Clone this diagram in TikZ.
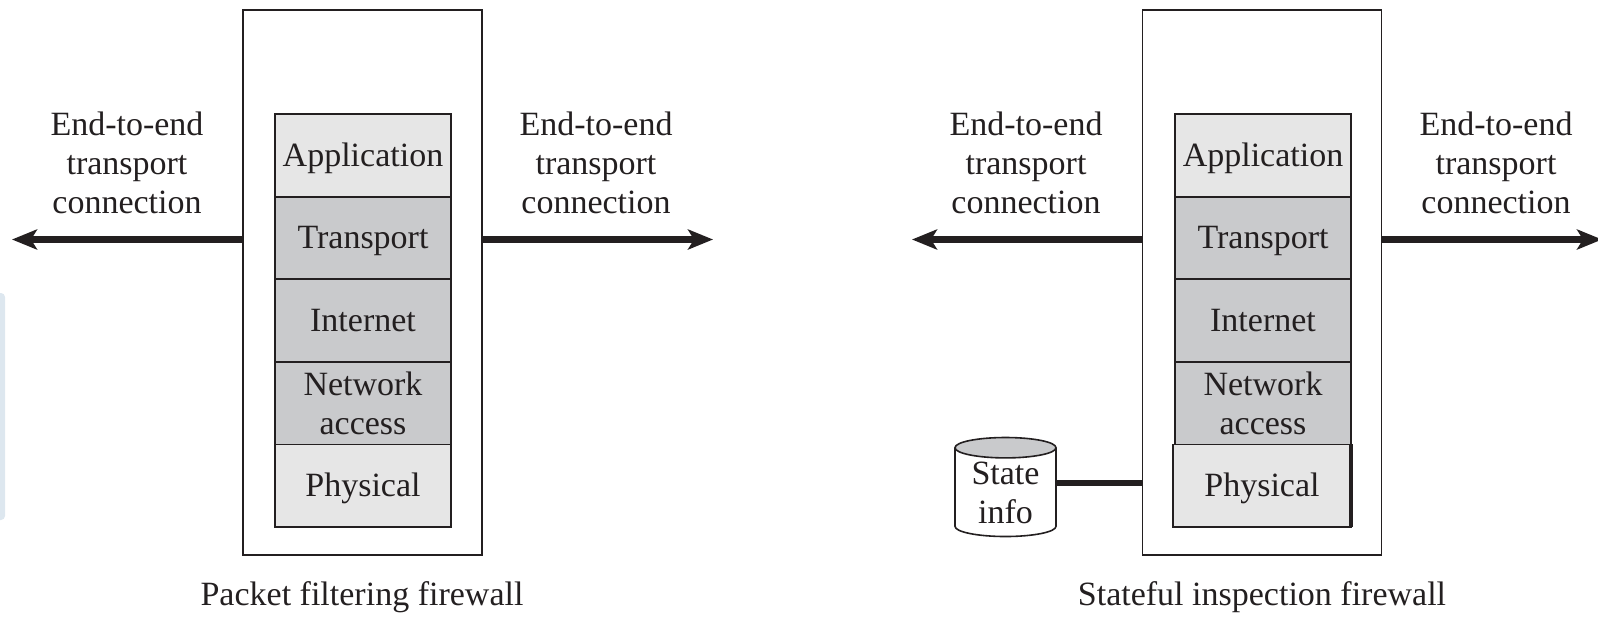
\documentclass[tikz,border=0pt]{standalone}
\usepackage{fontspec}
\setmainfont{Liberation Serif}
\usetikzlibrary{arrows.meta,shapes.geometric}
\definecolor{ink}{HTML}{231F20}
\definecolor{layerlight}{HTML}{E6E6E6}
\definecolor{layerdark}{HTML}{C9CACC}
\definecolor{pagetint}{HTML}{DDE7EF}
\begin{document}
\begin{tikzpicture}[x=0.5pt,y=-0.5pt,
  txt/.style={font=\fontsize{17}{19.5}\selectfont, text=ink, align=center, inner sep=0pt},
  frame/.style={draw=ink, line width=0.8pt, minimum width=119.5pt, minimum height=272.5pt, inner sep=0pt, outer sep=0pt},
  layer/.style={txt, draw=ink, line width=0.9pt, minimum width=88pt, minimum height=41.3pt, outer sep=0pt},
  oneline/.style={text height=12pt, text depth=1pt},
  lite/.style={layer, fill=layerlight},
  dark/.style={layer, fill=layerdark},
  conn/.style={draw=ink, line width=3.2pt, -{Stealth[length=12.5pt,width=10pt,inset=3pt]}},
  link/.style={draw=ink, line width=2.8pt}]
\useasboundingbox (0,0) rectangle (1598,616);
\fill[pagetint, rounded corners=2pt] (-6,293) rectangle (5,520);

% ---- packet filtering firewall ----
\node[frame] (fw1) at (362.5,282.5) {};
\node[lite, oneline, anchor=north] (app1) at (363,114) {Application};
\node[dark, oneline, anchor=north] (tra1) at (app1.south) {Transport};
\node[dark, oneline, anchor=north] (int1) at (tra1.south) {Internet};
\node[dark, anchor=north] (net1) at (int1.south) {Network\\access};
\node[lite, oneline, anchor=north] (phy1) at (net1.south) {Physical};

\coordinate (tipL1) at (12,239.5);
\coordinate (tipR1) at (713,239.5);
\draw[conn] (fw1.west |- tipL1) -- (tipL1);
\draw[conn] (fw1.east |- tipR1) -- (tipR1);
\node[txt] (lab1) at (127,163) {End-to-end\\transport\\connection};
\node[txt] (lab2) at (596,163) {End-to-end\\transport\\connection};
\node[txt] (cap1) at (362,597) {Packet filtering firewall};

% ---- stateful inspection firewall ----
\node[frame] (fw2) at (1262,282.5) {};
\node[lite, oneline, anchor=north] (app2) at (1263,114) {Application};
\node[dark, oneline, anchor=north] (tra2) at (app2.south) {Transport};
\node[dark, oneline, anchor=north] (int2) at (tra2.south) {Internet};
\node[dark, anchor=north] (net2) at (int2.south) {Network\\access};
\node[lite, oneline, anchor=north, minimum width=89pt, xshift=-0.5pt] (phy2) at (net2.south) {Physical};
\draw[ink, line width=1.6pt] (phy2.north east) -- (phy2.south east);

\coordinate (tipL2) at (912,239.5);
\coordinate (tipR2) at (1602,239.5);
\draw[conn] (fw2.west |- tipL2) -- (tipL2);
\draw[conn] (fw2.east |- tipR2) -- (tipR2);
\node[txt] (lab3) at (1026,163) {End-to-end\\transport\\connection};
\node[txt] (lab4) at (1496,163) {End-to-end\\transport\\connection};
\node[txt] (cap2) at (1262,597) {Stateful inspection firewall};

\node[cylinder, shape border rotate=90, aspect=0.3, draw=ink, line width=0.8pt,
      minimum width=50.5pt, minimum height=49.5pt, inner sep=0pt, outer sep=0pt,
      cylinder uses custom fill, cylinder end fill=layerdark, cylinder body fill=white,
      txt] (state) at (1005.5,492.5) {State\\info};
\coordinate (linky) at (0,483);
\draw[link] (state.east |- linky) -- (fw2.west |- linky);
\end{tikzpicture}
\end{document}
